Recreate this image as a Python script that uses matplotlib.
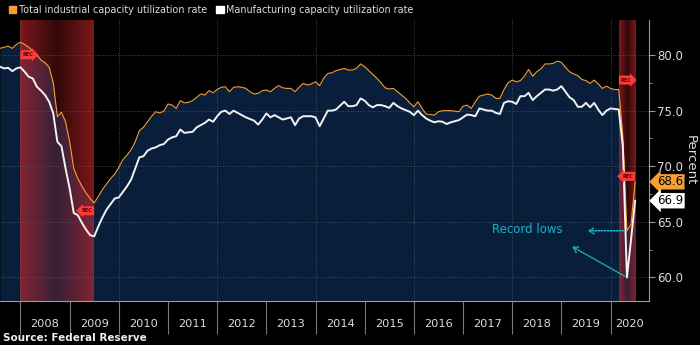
import matplotlib.pyplot as plt
import numpy as np
import pandas as pd
from matplotlib.patches import Patch

# Monthly capacity utilization, Jul 2007 - Jun 2020 (percent)
first_month = '2007-07'
last_month = '2020-06'

total_industrial = [
    80.6, 80.7, 80.8, 80.6, 80.95, 81.15,
    80.95, 80.7, 80.35, 80.0, 79.55, 79.3, 78.9, 77.5, 74.45, 74.85, 74.0, 72.2,
    69.8, 68.9, 68.2, 67.6, 67.1, 66.7, 67.3, 67.9, 68.4, 68.9, 69.3, 69.9,
    70.6, 71.0, 71.5, 72.2, 73.2, 73.5, 74.0, 74.5, 74.9, 74.8, 74.95, 75.6,
    75.5, 75.2, 75.9, 75.7, 75.75, 75.9, 76.2, 76.5, 76.4, 76.8, 76.6, 76.9,
    77.1, 77.15, 76.7, 77.1, 77.15, 77.1, 77.0, 76.7, 76.5, 76.55, 76.8, 76.85,
    76.7, 77.0, 77.25, 77.05, 77.0, 77.0, 76.7, 77.1, 77.45, 77.3, 77.4, 77.6,
    77.25, 77.9, 78.35, 78.4, 78.6, 78.7, 78.8, 78.65, 78.65, 78.8, 79.2, 78.95,
    78.6, 78.25, 77.9, 77.5, 77.05, 76.95, 77.0, 76.7, 76.4, 76.1, 75.7, 75.35,
    75.8, 75.2, 74.7, 74.65, 74.6, 74.9, 75.0, 75.0, 75.0, 74.95, 74.9, 75.4,
    75.5, 75.2, 75.8, 76.3, 76.4, 76.5, 76.4, 76.1, 76.1, 76.9, 77.5, 77.75,
    77.6, 77.7, 78.1, 78.7, 78.1, 78.5, 78.75, 79.2, 79.2, 79.25, 79.45, 79.35,
    78.9, 78.5, 78.3, 78.15, 77.8, 77.7, 77.45, 77.75, 77.4, 77.0, 77.2, 77.0,
    76.9, 76.9, 72.7, 64.2, 64.8, 68.6,
]

manufacturing = [
    78.95, 78.8, 78.85, 78.55, 78.8, 78.9,
    78.5, 78.05, 77.9, 77.15, 76.8, 76.4, 75.8, 74.75, 72.2, 71.8, 69.8, 68.0,
    65.8, 65.6, 64.9, 64.3, 63.8, 63.7, 64.6, 65.4, 66.1, 66.6, 67.1, 67.2,
    67.7, 68.2, 68.8, 69.8, 70.8, 70.9, 71.4, 71.6, 71.7, 71.9, 72.0, 72.4,
    72.6, 72.7, 73.3, 73.0, 73.05, 73.1, 73.5, 73.7, 73.9, 74.2, 74.0, 74.5,
    74.9, 75.0, 74.7, 75.0, 74.8, 74.6, 74.4, 74.25, 74.1, 73.75, 74.2, 74.75,
    74.4, 74.6, 74.4, 74.2, 74.3, 74.4, 73.7, 74.3, 74.5, 74.5, 74.5, 74.4,
    73.6, 74.3, 75.0, 75.0, 75.1, 75.45, 75.8, 75.4, 75.4, 75.5, 76.1, 75.9,
    75.5, 75.3, 75.5, 75.5, 75.4, 75.25, 75.7, 75.4, 75.2, 75.05, 74.9, 74.6,
    75.0, 74.6, 74.3, 74.1, 73.95, 74.05, 74.0, 73.8, 73.95, 74.05, 74.15, 74.4,
    74.65, 74.6, 74.5, 75.2, 75.1, 75.0, 75.0, 74.8, 74.7, 75.7, 75.85, 75.8,
    75.6, 76.3, 76.3, 76.6, 75.95, 76.3, 76.6, 76.9, 76.9, 76.8, 76.9, 77.2,
    76.7, 76.2, 75.95, 75.35, 75.35, 75.7, 75.3, 75.7, 75.1, 74.6, 75.0, 75.2,
    75.15, 75.1, 71.8, 60.0, 63.4, 66.9,
]

recessions = [('2007-12', '2009-06'), ('2020-02', '2020-06')]
years = list(range(2008, 2021))
y_ticks = [60.0, 65.0, 70.0, 75.0, 80.0]

ORANGE = '#f59f32'
WHITE = '#f2f2f2'
NAVY = '#081e3a'
CYAN = '#1ab4c4'
TEXT = '#dcdcdc'


def decimal_year(period):
    # month-end position on a decimal-year axis
    return period.year + period.month / 12


months = pd.period_range(first_month, last_month, freq='M')
x = np.array([decimal_year(p) for p in months])
total = np.array(total_industrial)
manuf = np.array(manufacturing)

x_left, x_right = x[0], 2020.78
y_bottom, y_top = 57.9, 83.15

plt.rcParams['font.family'] = ['DejaVu Sans']
fig = plt.figure(figsize=(7, 3.45), dpi=100, facecolor='black')
ax = fig.add_axes([0.0, 0.128, 0.927, 0.814])
ax.set_facecolor('black')

# area under the total industrial series
ax.fill_between(x, total, y_bottom, color=NAVY, lw=0, zorder=1)

# recession bands: red that fades towards the middle
for start, end in recessions:
    x0 = decimal_year(pd.Period(start, 'M'))
    x1 = decimal_year(pd.Period(end, 'M'))
    t = np.linspace(0, 1, 80)
    rgba = np.zeros((1, 80, 4))
    rgba[..., 0], rgba[..., 1], rgba[..., 2] = 0.86, 0.16, 0.18
    rgba[0, :, 3] = 0.22 + 0.36 * np.abs(2 * t - 1)
    ax.imshow(rgba, extent=[x0, x1, y_bottom, y_top], aspect='auto',
              interpolation='bilinear', zorder=2)

# dotted grid
for yv in y_ticks:
    ax.axhline(yv, color='#5c5c5c', lw=0.6, ls=(0, (1, 2)), zorder=2.5)
for yr in years[::2]:
    ax.axvline(yr, color='#5c5c5c', lw=0.6, ls=(0, (1, 2)), zorder=2.5)

ax.plot(x, total, color=ORANGE, lw=0.8, zorder=3)
ax.plot(x, manuf, color=WHITE, lw=1.4, zorder=3.5)

# REC tags at the start and end of each recession
tag_offsets = [(-9, -5.6), (6.8, 4)]
for (start, end), (off_s, off_e) in zip(recessions, tag_offsets):
    for when, off, style, ha, dx in [(start, off_s, 'rarrow', 'left', 1.5),
                                     (end, off_e, 'larrow', 'right', -1.5)]:
        xv = decimal_year(pd.Period(when, 'M'))
        yv = total[np.argmin(np.abs(x - xv))]
        ax.annotate('REC', xy=(xv, yv), xytext=(dx, off), textcoords='offset points',
                    ha=ha, va='center', fontsize=3.6, color='#5a0000', weight='bold',
                    bbox=dict(boxstyle=style + ',pad=0.4', fc='#ff3838', ec='none'),
                    zorder=5)

# record lows call-out
low_idx = int(np.argmin(manuf))
ax.text(2018.3, total[low_idx] + 0.15, 'Record lows', color=CYAN, fontsize=8.5,
        ha='center', va='center', zorder=6)
arrow = dict(arrowstyle='->,head_length=0.35,head_width=0.22', color=CYAN,
             lw=1.1, ls=(0, (1, 1)))
ax.annotate('', xy=(2019.48, total[low_idx]), xytext=(x[low_idx], total[low_idx]),
            arrowprops=arrow, zorder=6)
ax.annotate('', xy=(2019.17, 62.9), xytext=(x[low_idx], manuf[low_idx]),
            arrowprops=arrow, zorder=6)

ax.set_xlim(x_left, x_right)
ax.set_ylim(y_bottom, y_top)

# x axis: long separators at year starts, labels centred in each year
ax.set_xticks(years)
ax.set_xticklabels([])
ax.tick_params(axis='x', which='major', length=24, width=0.8, color='#7a7a7a')
mids = [(a + b) / 2 for a, b in zip(years, years[1:] + [x_right])]
ax.set_xticks(mids, minor=True)
ax.set_xticklabels([str(y) for y in years], minor=True, color=TEXT, fontsize=8.2)
ax.tick_params(axis='x', which='minor', length=0, pad=13)

# y axis on the right
ax.yaxis.tick_right()
ax.yaxis.set_label_position('right')
ax.set_yticks(y_ticks)
ax.set_yticklabels([f'{v:.1f}' for v in y_ticks], color=TEXT, fontsize=8.5)
ax.set_yticks([v + 2.5 for v in y_ticks[:-1]], minor=True)
ax.tick_params(axis='y', which='major', length=4, color='#9a9a9a', pad=2)
ax.tick_params(axis='y', which='minor', length=2.5, color='#9a9a9a')
ax.set_ylabel('Percent', rotation=270, color=TEXT, fontsize=9.5, labelpad=10)

for side in ['top', 'left']:
    ax.spines[side].set_visible(False)
for side in ['right', 'bottom']:
    ax.spines[side].set_color('#9a9a9a')
    ax.spines[side].set_linewidth(0.8)

# last-value tags
for val, fc in [(total[-1], ORANGE), (manuf[-1], 'white')]:
    ax.annotate(f'{val:.1f}', xy=(1.0, val), xycoords=('axes fraction', 'data'),
                xytext=(6, 0), textcoords='offset points', ha='left', va='center',
                fontsize=8.5, color='black',
                bbox=dict(boxstyle='larrow,pad=0.1', fc=fc, ec='none'),
                annotation_clip=False, zorder=6)

handles = [Patch(color=ORANGE), Patch(color='white')]
fig.legend(handles, ['Total industrial capacity utilization rate',
                     'Manufacturing capacity utilization rate'],
           loc='upper left', bbox_to_anchor=(0.0, 1.01), ncol=2, frameon=False,
           handlelength=0.75, handleheight=0.75, handletextpad=0.3,
           columnspacing=1.0, fontsize=6.9, labelcolor=TEXT)

fig.text(0.004, 0.012, 'Source: Federal Reserve', color='#eeeeee',
         fontsize=7.5, weight='bold')

fig.savefig('out.png', dpi=100, facecolor='black')
